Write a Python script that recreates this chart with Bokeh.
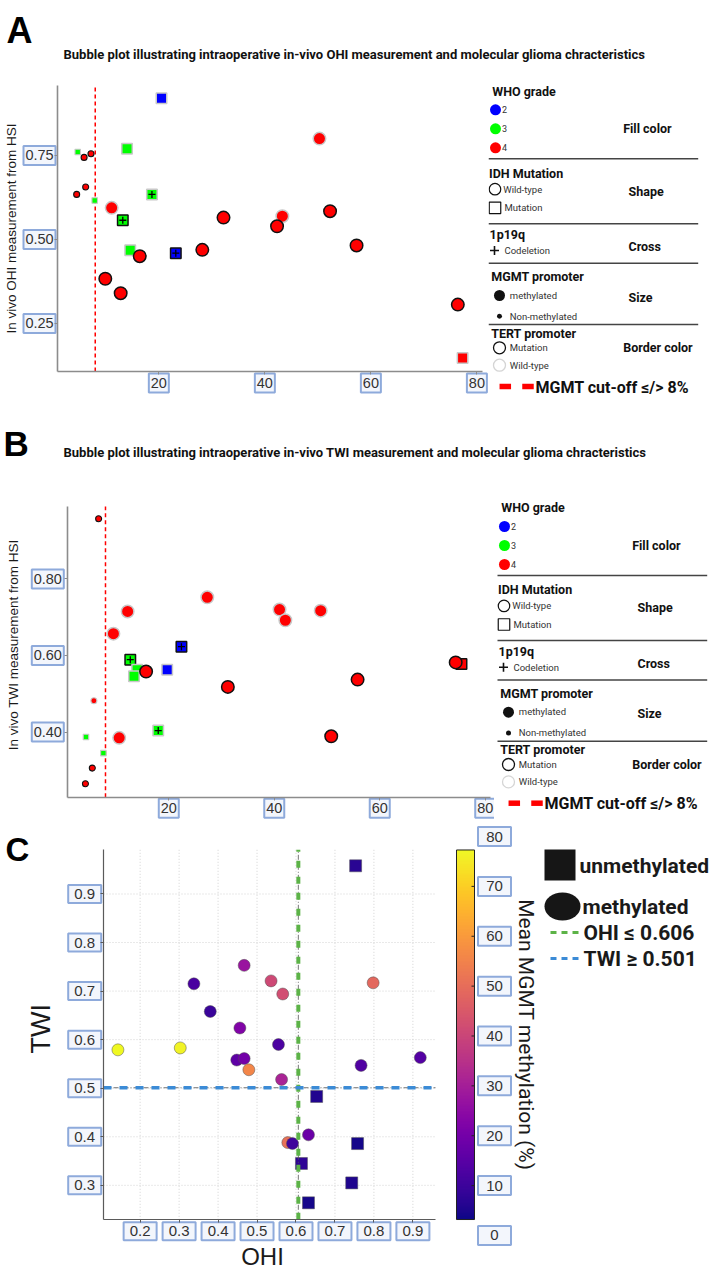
import numpy as np
from bokeh.core.properties import field, value
from bokeh.embed import file_html
from bokeh.layouts import column, row
from bokeh.models import (ColumnDataSource, CustomJSTickFormatter, FixedTicker,
                          LinearColorMapper, Range1d)
from bokeh.palettes import Plasma256
from bokeh.plotting import figure
from bokeh.resources import INLINE

# ---------------------------------------------------------------- thresholds
MGMT_CUTOFF = 8          # % promoter methylation: methylated / non-methylated
OHI_THRESHOLD = 0.606
TWI_THRESHOLD = 0.501

# ---------------------------------------------------------------- panel A data
# MGMT promoter methylation (%) vs. in vivo OHI
a_mgmt = [20.5, 50.3, 14.0, 4.7, 5.9, 7.2, 6.2, 4.5, 7.9, 18.7, 11.1, 13.2, 32.2,
          43.3, 42.3, 52.3, 57.3, 14.6, 16.4, 23.2, 28.2, 9.9, 12.8, 76.4, 77.3]
a_ohi = [0.920, 0.800, 0.770, 0.760, 0.744, 0.755, 0.656, 0.634, 0.616, 0.634, 0.594,
         0.557, 0.565, 0.569, 0.539, 0.584, 0.482, 0.468, 0.450, 0.459, 0.469, 0.383,
         0.340, 0.306, 0.147]
a_grade = [2, 4, 3, 3, 4, 4, 4, 4, 3, 3, 4, 3, 4, 4, 4, 4, 4, 3, 4, 2, 4, 4, 4, 4, 4]
a_idh_mut = [1, 0, 1, 1, 0, 0, 0, 0, 1, 1, 0, 1, 0, 0, 0, 0, 0, 1, 0, 1, 0, 0, 0, 0, 1]
a_codel = [0, 0, 0, 0, 0, 0, 0, 0, 0, 1, 0, 1, 0, 0, 0, 0, 0, 0, 0, 1, 0, 0, 0, 0, 0]
a_tert_mut = [0, 0, 0, 0, 1, 1, 1, 1, 0, 0, 0, 1, 1, 0, 1, 1, 1, 0, 1, 1, 1, 1, 1, 1, 0]

# ---------------------------------------------------------------- panel B data
# MGMT promoter methylation (%) vs. in vivo TWI
b_mgmt = [6.7, 27.3, 12.2, 41.0, 42.1, 48.8, 9.5, 22.4, 12.7, 14.0, 13.4, 15.7, 19.7,
          31.2, 55.8, 74.4, 75.5, 5.8, 4.3, 10.6, 18.0, 50.8, 7.6, 5.5, 4.2]
b_twi = [0.957, 0.752, 0.715, 0.720, 0.692, 0.717, 0.657, 0.623, 0.589, 0.563, 0.546,
         0.558, 0.563, 0.518, 0.537, 0.582, 0.578, 0.482, 0.387, 0.385, 0.404, 0.389,
         0.345, 0.306, 0.265]
b_grade = [4, 4, 4, 4, 4, 4, 4, 2, 3, 3, 3, 4, 2, 4, 4, 4, 4, 4, 3, 4, 3, 4, 3, 4, 4]
b_idh_mut = [0, 0, 0, 0, 0, 0, 0, 1, 1, 1, 1, 0, 1, 0, 0, 0, 1, 0, 1, 0, 1, 0, 1, 0, 0]
b_codel = [0, 0, 0, 0, 0, 0, 0, 1, 1, 0, 0, 0, 0, 0, 0, 0, 0, 0, 0, 0, 1, 0, 0, 0, 0]
b_tert_mut = [1, 0, 0, 0, 0, 0, 0, 1, 1, 0, 0, 1, 0, 1, 1, 1, 1, 0, 0, 0, 0, 1, 0, 1, 1]

# ---------------------------------------------------------------- panel C data
c_ohi = [0.143, 0.303, 0.338, 0.380, 0.467, 0.536, 0.566, 0.456, 0.555, 0.448, 0.467,
         0.479, 0.563, 0.798, 0.767, 0.919, 0.632, 0.579, 0.591,
         0.753, 0.653, 0.758, 0.614, 0.743, 0.632]
c_twi = [0.579, 0.583, 0.715, 0.658, 0.753, 0.721, 0.694, 0.624, 0.590, 0.558, 0.561,
         0.538, 0.518, 0.717, 0.547, 0.563, 0.404, 0.388, 0.386,
         0.958, 0.483, 0.386, 0.345, 0.305, 0.264]
c_mgmt = [77.3, 76.2, 12.2, 9.5, 27.3, 41.0, 42.1, 22.4, 12.7, 15.7, 19.7,
          55.8, 31.2, 48.8, 13.4, 14.0, 18.0, 50.8, 10.6,
          6.7, 5.8, 4.3, 7.6, 5.5, 4.2]
c_methylated = [1, 1, 1, 1, 1, 1, 1, 1, 1, 1, 1, 1, 1, 1, 1, 1, 1, 1, 1,
                0, 0, 0, 0, 0, 0]

# ---------------------------------------------------------------- ticks
ab_x_ticks = [20, 40, 60, 80]
a_y_ticks = [0.25, 0.50, 0.75]
b_y_ticks = [0.40, 0.60, 0.80]
c_x_ticks = [0.2, 0.3, 0.4, 0.5, 0.6, 0.7, 0.8, 0.9]
c_y_ticks = [0.3, 0.4, 0.5, 0.6, 0.7, 0.8, 0.9]
cbar_ticks = [0, 10, 20, 30, 40, 50, 60, 70, 80]
CBAR_LOW, CBAR_HIGH = 3.2, 77.3

TITLE_A = ("Bubble plot illustrating intraoperative in-vivo OHI measurement "
           "and molecular glioma chracteristics")
TITLE_B = ("Bubble plot illustrating intraoperative in-vivo TWI measurement "
           "and molecular glioma chracteristics")

# ---------------------------------------------------------------- styles
GRADE_COLORS = {2: "#0000ff", 3: "#00ff00", 4: "#ff0000"}
TERT_MUT_LINE = "#111111"
TERT_WT_LINE = "#c8c8c8"
SANS = "Liberation Sans"
UI = "Roboto"
BOX_FILL, BOX_LINE = "#f3f6fc", "#8eaadb"
GREEN = "#5cb347"
BLUE = "#3b8bd6"
BLANK = CustomJSTickFormatter(code="return ''")
FIG_COMMON = dict(output_backend="svg", toolbar_location=None, title=None,
                  frame_align=False, outline_line_color=None, min_border_left=0,
                  min_border_right=0, min_border_top=0, min_border_bottom=0)


def canvas(x0, x1, y0, y1):
    """Axis-less figure whose data units are page pixels (y grows downward)."""
    return figure(width=round(x1 - x0), height=round(y1 - y0),
                  x_range=Range1d(x0, x1), y_range=Range1d(y1, y0),
                  x_axis_type=None, y_axis_type=None, **FIG_COMMON)


def put_text(p, items, size, bold=False, color="#1a1a1a", font=UI, align="left",
             baseline="middle", angle=0.0, dx=0.0, dy=0.0):
    p.text(x=[it[1] + dx for it in items], y=[it[2] + dy for it in items],
           text=[it[0] for it in items], text_font=value(font),
           text_font_size=value(size), text_font_style="bold" if bold else "normal",
           text_color=color, text_align=align, text_baseline=baseline, angle=angle)


class Panel:
    """Figure whose frame fills the canvas; the data box sits inside a pixel margin
    so tick labels and titles can be drawn as ordinary glyphs around it."""

    def __init__(self, width, height, margin, xlim, ylim, x_ticks, y_ticks,
                 axis_color, axis_width):
        left, right, top, bottom = margin
        self.xlim, self.ylim = xlim, ylim
        self.sx = (xlim[1] - xlim[0]) / (width - left - right)   # data units per px
        self.sy = (ylim[1] - ylim[0]) / (height - top - bottom)
        self.fig = p = figure(
            width=width, height=height,
            x_range=Range1d(xlim[0] - left * self.sx, xlim[1] + right * self.sx),
            y_range=Range1d(ylim[0] - bottom * self.sy, ylim[1] + top * self.sy),
            **FIG_COMMON)
        p.grid.visible = False
        p.xaxis.fixed_location = ylim[0]
        p.yaxis.fixed_location = xlim[0]
        p.xaxis.bounds = xlim
        p.yaxis.bounds = ylim
        p.xaxis.ticker = FixedTicker(ticks=x_ticks)
        p.yaxis.ticker = FixedTicker(ticks=y_ticks)
        for ax in (p.xaxis, p.yaxis):
            ax.formatter = BLANK
            ax.major_label_standoff = 0
            ax.axis_line_color = axis_color
            ax.axis_line_width = axis_width
            ax.major_tick_line_color = axis_color
            ax.major_tick_line_width = 1
            ax.major_tick_out = 3
            ax.major_tick_in = 0
            ax.minor_tick_line_color = None

    def boxed(self, xs, ys, texts, box_w, box_h, size):
        self.fig.rect(x=xs, y=ys, width=box_w, height=box_h, width_units="screen",
                      height_units="screen", fill_color=BOX_FILL, line_color=BOX_LINE,
                      line_width=2)
        self.fig.text(x=xs, y=ys, text=texts, text_align="center",
                      text_baseline="middle", text_font=value(SANS),
                      text_font_size=value(size), text_color="#333333")

    def y_tick_labels(self, ticks, texts, gap, box_w, box_h, size):
        x = self.xlim[0] - (gap + box_w / 2) * self.sx
        self.boxed([x] * len(ticks), ticks, texts, box_w, box_h, size)

    def x_tick_labels(self, ticks, texts, gap, box_w, box_h, size):
        y = self.ylim[0] - (gap + box_h / 2) * self.sy
        self.boxed(ticks, [y] * len(ticks), texts, box_w, box_h, size)

    def y_title(self, text, dist, shift, size):
        self.fig.text(x=[self.xlim[0] - dist * self.sx],
                      y=[sum(self.ylim) / 2 + shift * self.sy], text=[text],
                      angle=np.pi / 2, text_align="center", text_baseline="middle",
                      text_font=value(SANS), text_font_size=value(size),
                      text_color="#1a1a1a")

    def x_title(self, text, dist, shift, size):
        self.fig.text(x=[sum(self.xlim) / 2 + shift * self.sx],
                      y=[self.ylim[0] - dist * self.sy], text=[text],
                      text_align="center", text_baseline="middle",
                      text_font=value(SANS), text_font_size=value(size),
                      text_color="#1a1a1a")


def bubble_panel(mgmt, hsi, grade, idh_mut, codel, tert_mut, width, height, margin,
                 xlim, ylim, y_ticks, y_title, y_gap, y_box, x_gap, title_dist,
                 title_shift):
    pan = Panel(width, height, margin, xlim, ylim, ab_x_ticks, y_ticks, "#8c8c8c", 1.6)
    p = pan.fig

    # cut-off between methylated and non-methylated MGMT promoter
    p.segment(x0=[MGMT_CUTOFF], x1=[MGMT_CUTOFF], y0=[ylim[0]], y1=[ylim[1]],
              line_color="#ff0000", line_width=1.5, line_dash="4 3")

    n = len(mgmt)
    methylated = [m > MGMT_CUTOFF for m in mgmt]
    sizes = {"square": (10.5, 5.5), "circle": (12.5, 6.0)}
    for shape in ("square", "circle"):
        idx = [i for i in range(n) if bool(idh_mut[i]) == (shape == "square")]
        big, small = sizes[shape]
        src = ColumnDataSource(dict(
            x=[mgmt[i] for i in idx], y=[hsi[i] for i in idx],
            fill=[GRADE_COLORS[grade[i]] for i in idx],
            line=[TERT_MUT_LINE if tert_mut[i] else TERT_WT_LINE for i in idx],
            size=[big if methylated[i] else small for i in idx],
            lw=[1.5 if methylated[i] else 1.1 for i in idx]))
        p.scatter("x", "y", source=src, marker=shape, size="size", fill_color="fill",
                  line_color="line", line_width="lw")

    cx = [mgmt[i] for i in range(n) if codel[i]]
    cy = [hsi[i] for i in range(n) if codel[i]]
    p.scatter(cx, cy, marker="cross", size=7, line_color="#000000", line_width=1.3)

    pan.y_tick_labels(y_ticks, [f"{t:.2f}" for t in y_ticks], y_gap, y_box, 19,
                      "14.5px")
    pan.x_tick_labels(ab_x_ticks, [str(t) for t in ab_x_ticks], x_gap, 20, 19,
                      "14.5px")
    pan.y_title(y_title, title_dist, title_shift, "13.5px")
    return p


def attribute_key(p, dx, dy):
    """Legend explaining fill, shape, cross, size and border encodings."""
    heads = [("WHO grade", 491.7, 90.7), ("IDH Mutation", 488.5, 172.7),
             ("1p19q", 489.0, 234.0), ("MGMT promoter", 490.7, 276.0),
             ("TERT promoter", 490.7, 332.7)]
    roles = [("Fill color", 622.7, 128.3), ("Shape", 628.0, 190.7),
             ("Cross", 628.0, 246.0), ("Size", 628.0, 296.7),
             ("Border color", 622.7, 347.3)]
    grades = [(str(g), 501.5, y) for g, y in zip((2, 3, 4), (109.3, 128.3, 147.3))]
    small = [("Wild-type", 502.7, 188.7), ("Mutation", 504.0, 207.3),
             ("Codeletion", 504.0, 250.0), ("methylated", 509.3, 294.5),
             ("Non-methylated", 509.3, 315.7), ("Mutation", 509.3, 347.3),
             ("Wild-type", 509.3, 364.7)]
    put_text(p, heads, "12.5px", bold=True, color="#111111", dx=dx, dy=dy)
    put_text(p, roles, "12.5px", bold=True, color="#111111", dx=dx, dy=dy)
    put_text(p, grades, "9px", color="#333333", dx=dx, dy=dy)
    put_text(p, small, "9.5px", color="#333333", dx=dx, dy=dy)

    seps = [158.3, 223.3, 262.7, 324.0]
    p.segment(x0=[488 + dx] * 4, x1=[697.7 + dx] * 4, y0=[s + dy for s in seps],
              y1=[s + dy for s in seps], line_color="#444444", line_width=1.5)

    p.scatter([495 + dx] * 3, [y + dy for y in (109.3, 128.3, 147.3)], size=11,
              fill_color=[GRADE_COLORS[g] for g in (2, 3, 4)], line_color=None)
    p.scatter([494.5 + dx], [188.7 + dy], marker="circle", size=11.5, fill_color=None,
              line_color="#111111", line_width=1.2)
    p.scatter([494.5 + dx], [207.3 + dy], marker="square", size=11.5, fill_color=None,
              line_color="#111111", line_width=1.2)
    p.scatter([494 + dx], [250 + dy], marker="cross", size=9, line_color="#111111",
              line_width=1.6)
    p.scatter([499 + dx, 499 + dx], [295 + dy, 315.7 + dy], size=[11, 5],
              fill_color="#111111", line_color=None)
    p.scatter([499 + dx, 499 + dx], [347.3 + dy, 364.7 + dy], size=12, fill_color=None,
              line_color=[TERT_MUT_LINE, "#d5d5d5"], line_width=1.3)

    p.rect(x=[504.8 + dx, 527.5 + dx], y=[386 + dy] * 2, width=11.5, height=5.5,
           fill_color="#ff0000", line_color=None)
    put_text(p, [(f"MGMT cut-off \u2264/> {MGMT_CUTOFF}%", 535.0, 386.5)], "16px",
             bold=True, color="#111111", dx=dx, dy=dy)


# ================================================================ panel A
head_a = canvas(0, 714, 0, 75)
put_text(head_a, [("A", 6, 30)], "36px", bold=True, color="#000000", font=SANS,
         baseline="alphabetic")
put_text(head_a, [(TITLE_A, 63, 53.5)], "13px", bold=True, color="#111111")

pa = bubble_panel(a_mgmt, a_ohi, a_grade, a_idh_mut, a_codel, a_tert_mut,
                  width=488, height=325, margin=(57.3, 6.3, 10, 29),
                  xlim=(0.94, 81.0), ylim=(0.107, 0.958), y_ticks=a_y_ticks,
                  y_title="In vivo OHI measurement from HSI", y_gap=2.3, y_box=32,
                  x_gap=2, title_dist=46, title_shift=0)
key_a = canvas(488, 714, 75, 400)
attribute_key(key_a, 0, 0)

# ================================================================ panel B
head_b = canvas(0, 714, 400, 490)
put_text(head_b, [("B", 3, 443)], "35px", bold=True, color="#000000", font=SANS,
         baseline="alphabetic")
put_text(head_b, [(TITLE_B, 63, 452)], "13px", bold=True, color="#111111")

pb = bubble_panel(b_mgmt, b_twi, b_grade, b_idh_mut, b_codel, b_tert_mut,
                  width=494, height=330, margin=(66.7, 4, 16, 23.3),
                  xlim=(0.74, 81.0), ylim=(0.230, 0.989), y_ticks=b_y_ticks,
                  y_title="In vivo TWI measurement from HSI", y_gap=3.4, y_box=32,
                  x_gap=1.5, title_dist=54, title_shift=7)
key_b = canvas(494, 714, 490, 820)
attribute_key(key_b, 9, 416.7)

# ================================================================ panel C
mapper = LinearColorMapper(palette=Plasma256, low=CBAR_LOW, high=CBAR_HIGH)
C_XLIM, C_YLIM = (0.106, 0.958), (0.229, 0.991)

pan_c = Panel(440, 449, (103, 5, 29.3, 49.7), C_XLIM, C_YLIM, c_x_ticks, c_y_ticks,
              "#5a5a5a", 1.2)
pc = pan_c.fig

# dotted grid
pc.segment(x0=c_x_ticks, x1=c_x_ticks, y0=[C_YLIM[0]] * len(c_x_ticks),
           y1=[C_YLIM[1]] * len(c_x_ticks), line_color="#d2d2d2", line_dash="1 2")
pc.segment(x0=[C_XLIM[0]] * len(c_y_ticks), x1=[C_XLIM[1]] * len(c_y_ticks),
           y0=c_y_ticks, y1=c_y_ticks, line_color="#d2d2d2", line_dash="1 2")

src_c = ColumnDataSource(dict(
    ohi=c_ohi, twi=c_twi, mgmt=c_mgmt,
    marker=["circle" if m else "square" for m in c_methylated]))
pc.scatter("ohi", "twi", source=src_c, marker=field("marker"), size=12,
           fill_color={"field": "mgmt", "transform": mapper},
           line_color="#4d4d4d", line_alpha=0.6, line_width=0.8)

# threshold lines (thin dash-dot guide beneath the coloured dashes)
pc.segment(x0=[OHI_THRESHOLD, C_XLIM[0]], x1=[OHI_THRESHOLD, C_XLIM[1]],
           y0=[C_YLIM[0], TWI_THRESHOLD], y1=[C_YLIM[1], TWI_THRESHOLD],
           line_color="#555555", line_alpha=0.8, line_width=1, line_dash="5 2 1 2")
pc.segment(x0=[OHI_THRESHOLD], x1=[OHI_THRESHOLD], y0=[C_YLIM[0]], y1=[C_YLIM[1]],
           line_color=GREEN, line_width=4, line_dash="7 9")
pc.segment(x0=[C_XLIM[0]], x1=[C_XLIM[1]], y0=[TWI_THRESHOLD], y1=[TWI_THRESHOLD],
           line_color=BLUE, line_width=3.5, line_dash="8 8")

pan_c.y_tick_labels(c_y_ticks, [f"{t:.1f}" for t in c_y_ticks], 2.3, 33, 18, "15px")
pan_c.x_tick_labels(c_x_ticks, [f"{t:.1f}" for t in c_x_ticks], 2.4, 33, 18, "15px")
pan_c.y_title("TWI", 63, 6, "27px")
pan_c.x_title("OHI", 37, -7, "24px")
pc.text(x=[C_XLIM[0] - 98 * pan_c.sx], y=[C_YLIM[1]], text=["C"],
        text_font=value(SANS), text_font_style="bold", text_font_size=value("33px"),
        text_color="#000000", text_align="left", text_baseline="alphabetic")

# colour bar: page-pixel x, MGMT-percent y
cb = figure(width=100, height=449, x_range=Range1d(440, 540),
            y_range=Range1d(-6.82, 83.21), x_axis_type=None, y_axis_type=None,
            **FIG_COMMON)
cb.image(image=[np.linspace(CBAR_LOW, CBAR_HIGH, 256).reshape(256, 1)], x=456,
         y=CBAR_LOW, dw=18, dh=CBAR_HIGH - CBAR_LOW, color_mapper=mapper)
cb.quad(left=456, right=474, bottom=CBAR_LOW, top=CBAR_HIGH, fill_color=None,
        line_color="#222222", line_width=1)
inner = [t for t in cbar_ticks if CBAR_LOW < t < CBAR_HIGH]
cb.segment(x0=[471] * len(inner), x1=[474] * len(inner), y0=inner, y1=inner,
           line_color="#222222", line_width=1)
cb.rect(x=[494] * len(cbar_ticks), y=cbar_ticks, width=33, height=19,
        height_units="screen", fill_color=BOX_FILL, line_color=BOX_LINE, line_width=2)
cb.text(x=[494] * len(cbar_ticks), y=cbar_ticks, text=[str(t) for t in cbar_ticks],
        text_font=value(SANS), text_font_size=value("15px"), text_color="#333333",
        text_align="center", text_baseline="middle")
cb.text(x=[525], y=[(CBAR_LOW + CBAR_HIGH) / 2], text=["Mean MGMT methylation (%)"],
        angle=-np.pi / 2, text_font=value(UI), text_font_size=value("21px"),
        text_color="#1a1a1a", text_align="center", text_baseline="middle")

# marker / threshold key
key_c = canvas(540, 714, 820, 1269)
key_c.rect(x=[559.5], y=[864.5], width=31, height=31, fill_color="#161616",
           line_color=None)
key_c.ellipse(x=[562], y=[906], width=36, height=28, fill_color="#161616",
              line_color=None)
key_c.line([550, 581], [932, 932], line_color=GREEN, line_width=3, line_dash="6 5")
key_c.line([550, 581], [958, 958], line_color=BLUE, line_width=3, line_dash="6 5")
put_text(key_c, [("unmethylated", 579, 865), ("methylated", 582, 906),
                 (f"OHI \u2264 {OHI_THRESHOLD}", 583, 932),
                 (f"TWI \u2265 {TWI_THRESHOLD}", 583, 958)],
         "21px", bold=True, color="#1a1a1a")

page = column(head_a, row(pa, key_a), head_b, row(pb, key_b), row(pc, cb, key_c))
open("out.html", "w").write(file_html(page, INLINE, title="Glioma HSI bubble plots"))
